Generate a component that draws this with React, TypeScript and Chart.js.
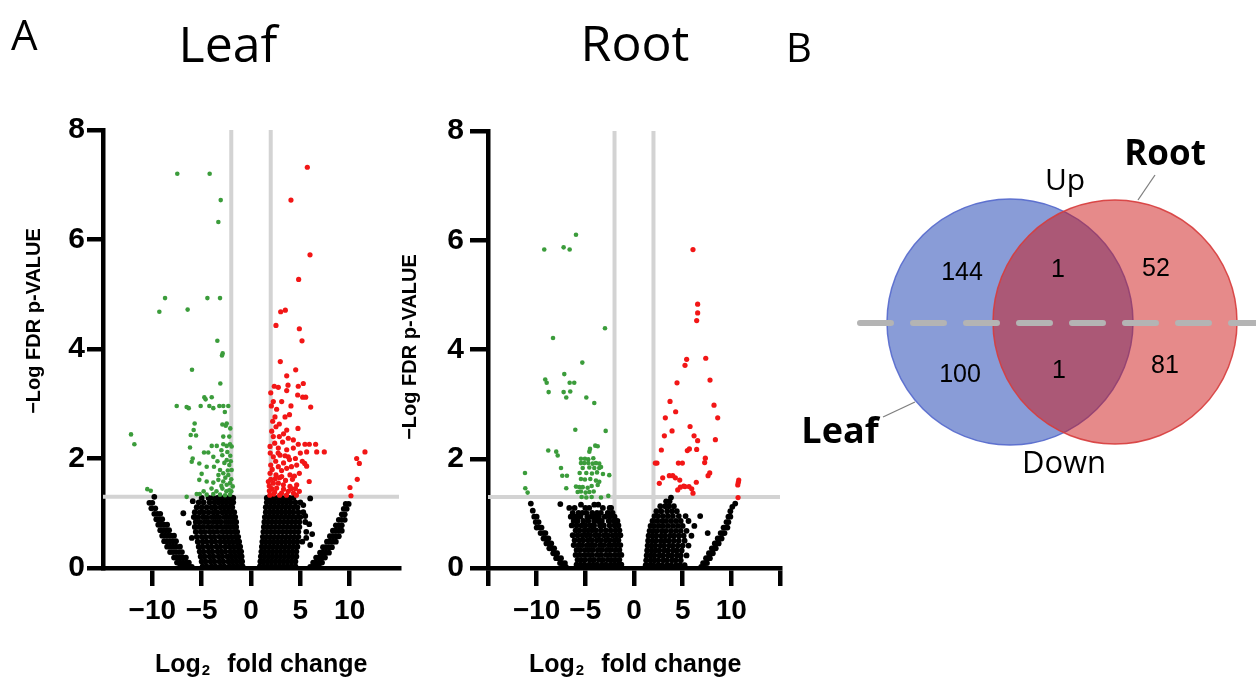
import React, { useEffect, useRef } from 'react';
import { Chart, registerables } from 'chart.js';

Chart.register(...registerables);

// ------------------------------------------------------------------
// DATA
// ------------------------------------------------------------------
const xTickValuesLeaf = [-10, -5, 0, 5, 10];
const xTickValuesRoot = [-15, -10, -5, 0, 5, 10, 15];
const xLabelledTicks = [-10, -5, 0, 5, 10];
const yTickStep = 2;
const fcThresholds = [-2, 2];
const pThreshold = 1.3;

// Leaf: significantly down-regulated (green)
const leafDown: [number, number][] = [
  [-7.47, 7.2], [-4.19, 7.2], [-3.07, 6.72], [-3.31, 6.32], [-8.71, 4.93], [-4.42, 4.93], [-3.14, 4.93],
  [-9.29, 4.68], [-6.42, 4.72], [-3.41, 4.15], [-2.87, 3.92], [-2.94, 3.88], [-5.98, 3.62], [-3.11, 3.37],
  [-4.73, 3.12], [-3.98, 3.12], [-7.53, 2.96], [-6.52, 2.94], [-6.31, 2.92], [-5.1, 2.96], [-4.22, 2.96],
  [-3.82, 2.92], [-3.21, 2.96], [-2.81, 2.96], [-2.3, 2.96], [-5.71, 2.64], [-5.81, 2.52], [-6.11, 2.43],
  [-5.57, 2.42], [-2.46, 2.64], [-2.56, 2.6], [-2.81, 2.4], [-12.16, 2.44], [-11.82, 2.26], [-6.18, 2.2],
  [-4.76, 2.11], [-4.33, 2.11], [-3.98, 2.23], [-3.47, 2.23], [-2.81, 2.26], [-2.46, 2.23], [-2.13, 2.26],
  [-1.96, 2.22], [-3.82, 2.03], [-2.91, 2.06], [-2.46, 1.97], [-5.91, 2.0], [-6.01, 1.94], [-5.24, 1.91],
  [-4.49, 1.85], [-3.75, 1.85], [-3.14, 1.79], [-2.81, 1.73], [-2.3, 1.7], [-1.96, 1.79], [-5.24, 1.61],
  [-4.49, 1.58], [-3.82, 1.56], [-3.31, 1.61], [-2.81, 1.58], [-2.46, 1.52], [-2.13, 1.55], [-1.85, 1.49],
  [-10.51, 1.44], [-10.16, 1.41], [-6.52, 1.3], [-5.5, 1.35], [-4.49, 1.34], [-3.82, 1.35], [-3.14, 1.34],
  [-2.63, 1.33], [-2.13, 1.34], [-2.2, 1.42], [-2.5, 1.4], [-2.9, 1.45], [-2.0, 1.62], [-2.6, 1.65],
  [-3.0, 1.5], [-2.2, 1.88], [-2.7, 1.92], [-3.4, 1.95], [-2.1, 2.05], [-2.4, 2.12], [-3.0, 2.15],
  [-2.0, 1.4], [-4.0, 1.45], [-3.5, 1.4], [-2.35, 1.78], [-2.05, 1.95], [-3.3, 1.7], [-4.8, 1.4],
  [-5.0, 1.72], [-2.2, 2.4], [-2.1, 2.55], [-2.65, 2.85], [-2.9, 2.62], [-4.6, 3.08], [-5.2, 1.35],
];

// Leaf: significantly up-regulated (red)
const leafUp: [number, number][] = [
  [5.71, 7.32], [4.05, 6.72], [5.98, 5.72], [4.83, 5.27], [3.01, 4.68], [3.48, 4.71], [2.53, 4.43],
  [4.9, 4.37], [5.17, 4.15], [2.97, 3.77], [4.53, 3.62], [3.62, 3.51], [5.3, 3.37], [4.79, 3.32],
  [2.36, 3.32], [2.77, 3.3], [3.62, 3.24], [3.75, 3.34], [4.73, 3.16], [5.24, 3.12], [5.54, 3.12],
  [2.26, 3.04], [3.11, 3.04], [4.05, 2.96], [2.06, 2.96], [6.05, 2.94], [2.43, 2.76], [3.45, 2.76],
  [2.53, 2.58], [2.87, 2.63], [3.62, 2.52], [4.76, 2.55], [2.26, 2.4], [2.87, 2.4], [3.78, 2.37],
  [4.29, 2.34], [4.79, 2.26], [5.47, 2.26], [5.91, 2.26], [6.55, 2.26], [7.43, 2.12], [6.66, 2.12],
  [5.64, 2.12], [1.93, 2.22], [2.77, 2.19], [3.62, 2.16], [4.29, 2.19], [2.26, 2.03], [2.94, 2.06],
  [3.78, 2.03], [2.0, 1.88], [2.77, 1.85], [3.62, 1.82], [4.63, 1.88], [5.64, 1.86], [5.44, 1.91],
  [1.93, 1.73], [2.53, 1.7], [3.11, 1.67], [3.95, 1.7], [4.9, 1.73], [1.76, 1.58], [2.26, 1.55],
  [2.77, 1.55], [3.28, 1.52], [3.95, 1.49], [4.63, 1.52], [1.86, 1.41], [2.4, 1.39], [3.1, 1.37],
  [3.78, 1.4], [4.3, 1.37], [4.9, 1.4], [11.55, 2.12], [10.71, 2.0], [10.98, 1.91], [10.77, 1.62],
  [10.03, 1.47], [10.13, 1.32], [1.9, 1.33], [2.1, 1.45], [2.3, 1.35], [2.6, 1.46], [2.9, 1.33],
  [3.3, 1.44], [3.6, 1.33], [4.1, 1.45], [4.6, 1.33], [2.0, 1.62], [2.45, 1.63], [2.9, 1.65],
  [3.5, 1.6], [4.2, 1.62], [1.85, 1.5], [2.15, 1.8], [2.5, 1.95], [3.3, 1.92], [3.1, 1.78],
  [4.1, 1.85], [4.4, 1.68], [1.95, 2.1], [2.4, 2.28], [3.2, 2.3], [2.1, 2.5], [3.3, 2.45],
  [2.6, 2.9], [3.9, 2.8], [2.2, 2.68], [5.0, 2.1], [4.5, 2.0], [5.2, 1.95], [5.9, 1.58],
  [2.0, 3.2], [3.9, 1.98], [4.5, 1.45], [2.75, 2.1], [3.45, 2.05],
];

// Leaf: not significant (black) — rows of [y, x values]
const leafNsLeftArc: [number, number[]][] = [
  [1.3, [-9.8]], [1.19, [-10.3, -10.0]], [1.09, [-10.1, -9.7]], [0.99, [-9.8, -9.5, -9.2]],
  [0.89, [-9.6, -9.3, -9.0]], [0.79, [-9.4, -9.1, -8.8, -8.5]], [0.69, [-9.2, -8.9, -8.6, -8.3]],
  [0.59, [-9.0, -8.7, -8.4, -8.1, -7.8]], [0.49, [-8.8, -8.5, -8.2, -7.9, -7.6]],
  [0.39, [-8.5, -8.2, -7.9, -7.6, -7.2]], [0.29, [-8.2, -7.9, -7.6, -7.3, -7.0]],
  [0.19, [-7.8, -7.5, -7.2, -6.9, -6.6]], [0.1, [-7.5, -7.2, -6.9, -6.6, -6.3]],
  [0.02, [-7.2, -6.9, -6.6, -6.3, -6.0]],
];
const leafNsLeftCloud: [number, number[]][] = [
  [1.28, [-5.0, -4.3, -3.9, -3.4, -3.0, -2.6, -2.3, -2.0, -1.8]],
  [1.2, [-5.3, -4.8, -4.2, -3.7, -3.3, -2.9, -2.5, -2.1, -1.8]],
  [1.11, [-5.5, -5.0, -4.5, -4.0, -3.6, -3.1, -2.7, -2.3, -1.9]],
  [1.02, [-5.7, -5.2, -4.8, -4.3, -3.8, -3.4, -2.9, -2.5, -2.1, -1.7]],
  [0.93, [-5.8, -5.4, -4.9, -4.5, -4.0, -3.6, -3.2, -2.7, -2.3, -1.9, -1.6]],
  [0.84, [-5.6, -5.2, -4.7, -4.3, -3.8, -3.4, -3.0, -2.5, -2.1, -1.7, -1.5]],
  [0.75, [-5.7, -5.3, -4.9, -4.4, -4.0, -3.5, -3.1, -2.7, -2.3, -1.9, -1.5]],
  [0.66, [-5.6, -5.1, -4.7, -4.2, -3.8, -3.4, -2.9, -2.5, -2.1, -1.7, -1.4]],
  [0.57, [-5.5, -5.0, -4.6, -4.1, -3.7, -3.2, -2.8, -2.4, -2.0, -1.6, -1.3]],
  [0.48, [-5.4, -4.9, -4.5, -4.0, -3.6, -3.1, -2.7, -2.3, -1.9, -1.5, -1.2]],
  [0.39, [-5.3, -4.9, -4.4, -4.0, -3.5, -3.1, -2.6, -2.2, -1.8, -1.4, -1.1]],
  [0.3, [-5.2, -4.8, -4.3, -3.9, -3.4, -3.0, -2.6, -2.1, -1.7, -1.3, -1.0]],
  [0.21, [-5.1, -4.7, -4.2, -3.8, -3.3, -2.9, -2.4, -2.0, -1.6, -1.2, -0.95]],
  [0.12, [-5.0, -4.6, -4.1, -3.7, -3.2, -2.8, -2.3, -1.9, -1.5, -1.1, -0.9]],
  [0.03, [-4.9, -4.5, -4.0, -3.6, -3.1, -2.7, -2.2, -1.8, -1.4, -1.0, -0.85]],
];
const leafNsRightCloud: [number, number[]][] = [
  [1.28, [1.6, 1.9, 2.3, 2.7, 3.1, 3.5, 3.9, 4.3]],
  [1.2, [1.6, 2.0, 2.4, 2.8, 3.2, 3.6, 4.0, 4.5, 5.0]],
  [1.11, [1.5, 1.9, 2.3, 2.7, 3.1, 3.5, 3.9, 4.3, 4.7]],
  [1.02, [1.5, 1.9, 2.3, 2.7, 3.1, 3.5, 3.9, 4.3, 4.8, 5.3]],
  [0.93, [1.4, 1.8, 2.2, 2.6, 3.0, 3.4, 3.8, 4.2, 4.6, 5.0]],
  [0.84, [1.35, 1.7, 2.1, 2.5, 2.9, 3.3, 3.7, 4.1, 4.5, 4.9, 5.5]],
  [0.75, [1.3, 1.7, 2.1, 2.5, 2.9, 3.3, 3.7, 4.1, 4.5, 4.9]],
  [0.66, [1.25, 1.6, 2.0, 2.4, 2.8, 3.2, 3.6, 4.0, 4.4, 4.8, 5.6]],
  [0.57, [1.2, 1.6, 2.0, 2.4, 2.8, 3.2, 3.6, 4.0, 4.4, 4.8]],
  [0.48, [1.15, 1.5, 1.9, 2.3, 2.7, 3.1, 3.5, 3.9, 4.3, 4.7, 5.2]],
  [0.39, [1.1, 1.5, 1.9, 2.3, 2.7, 3.1, 3.5, 3.9, 4.3, 4.7]],
  [0.3, [1.05, 1.4, 1.8, 2.2, 2.6, 3.0, 3.4, 3.8, 4.2, 4.6]],
  [0.21, [1.0, 1.4, 1.8, 2.2, 2.6, 3.0, 3.4, 3.8, 4.2, 4.6]],
  [0.12, [0.95, 1.3, 1.7, 2.1, 2.5, 2.9, 3.3, 3.7, 4.1, 4.5]],
  [0.03, [0.9, 1.3, 1.7, 2.1, 2.5, 2.9, 3.3, 3.7, 4.1, 4.5]],
];
const leafNsRightArc: [number, number[]][] = [
  [1.17, [9.6, 9.9]], [1.08, [9.4, 9.7]], [0.98, [9.2, 9.5]], [0.88, [8.9, 9.2, 9.5]],
  [0.78, [8.6, 8.9, 9.2]], [0.68, [8.3, 8.6, 8.9, 9.2]], [0.58, [8.0, 8.3, 8.6, 8.9]],
  [0.48, [7.7, 8.0, 8.3, 8.6]], [0.38, [7.3, 7.6, 7.9, 8.2]], [0.28, [7.0, 7.3, 7.6, 7.9]],
  [0.19, [6.6, 6.9, 7.2, 7.5]], [0.1, [6.3, 6.6, 6.9, 7.2]], [0.02, [6.0, 6.3, 6.6, 6.9]],
];
const leafNsScatter: [number, number][] = [
  [-6.86, 1.0], [-5.9, 1.22], [-6.3, 0.82], [-6.0, 0.55], [6.0, 1.27], [5.5, 0.95],
  [5.9, 0.8], [6.2, 0.62], [5.6, 0.55], [6.0, 0.42], [5.3, 1.15],
];

// Root: significantly down-regulated (green)
const rootDown: [number, number][] = [
  [-9.22, 5.83], [-7.23, 5.87], [-6.61, 5.83], [-5.96, 6.1], [-2.98, 4.39], [-8.32, 4.21], [-5.31, 3.76],
  [-7.16, 3.55], [-9.12, 3.45], [-8.97, 3.39], [-6.61, 3.39], [-6.14, 3.39], [-8.77, 3.22], [-7.23, 3.22],
  [-6.55, 3.23], [-6.96, 3.12], [-4.9, 3.12], [-4.08, 3.02], [-6.03, 2.53], [-2.91, 2.51], [-8.81, 2.15],
  [-7.99, 2.13], [-7.84, 2.06], [-7.5, 1.83], [-7.37, 1.69], [-6.89, 1.69], [-11.2, 1.74], [-11.17, 1.46],
  [-10.93, 1.38], [-6.96, 1.46], [-4.52, 2.18], [-4.59, 2.13], [-3.98, 2.24], [-3.73, 2.23], [-5.45, 2.0],
  [-5.04, 2.0], [-4.7, 1.99], [-4.18, 2.01], [-5.45, 1.92], [-5.11, 1.92], [-4.7, 1.92], [-4.25, 1.91],
  [-3.91, 1.92], [-3.57, 1.91], [-5.27, 1.83], [-4.59, 1.84], [-4.08, 1.83], [-3.57, 1.83], [-3.39, 1.85],
  [-5.58, 1.74], [-4.9, 1.74], [-4.32, 1.73], [-3.8, 1.75], [-3.19, 1.72], [-2.54, 1.7], [-5.45, 1.63],
  [-5.04, 1.62], [-4.49, 1.63], [-3.91, 1.6], [-3.57, 1.58], [-5.96, 1.49], [-5.62, 1.48], [-5.27, 1.48],
  [-4.76, 1.47], [-4.35, 1.5], [-3.73, 1.52], [-5.79, 1.39], [-5.45, 1.4], [-4.97, 1.38], [-4.59, 1.39],
  [-4.14, 1.4], [-5.38, 1.3], [-4.9, 1.29], [-4.35, 1.3], [-3.39, 1.29], [-2.64, 1.32],
];

// Root: significantly up-regulated (red)
const rootUp: [number, number][] = [
  [6.06, 5.83], [6.54, 4.83], [6.54, 4.67], [6.44, 4.53], [5.41, 3.82], [5.24, 3.71], [7.37, 3.84],
  [4.42, 3.39], [7.81, 3.44], [3.7, 3.05], [4.28, 2.86], [3.22, 2.75], [3.91, 2.51], [8.22, 2.98],
  [8.6, 2.75], [5.76, 2.59], [6.17, 2.42], [6.54, 2.33], [3.12, 2.42], [8.36, 2.35], [2.81, 2.16],
  [2.36, 1.92], [5.48, 2.15], [5.69, 2.18], [6.44, 2.17], [4.56, 1.92], [4.97, 1.92], [7.33, 2.01],
  [7.26, 1.93], [7.78, 1.74], [7.61, 1.69], [2.95, 1.65], [2.6, 1.55], [3.63, 1.69], [3.98, 1.69],
  [4.25, 1.65], [4.7, 1.61], [5.11, 1.5], [4.76, 1.48], [4.49, 1.43], [5.65, 1.49], [5.93, 1.45],
  [6.06, 1.37], [6.4, 1.57], [5.24, 1.49], [10.76, 1.61], [10.72, 1.57], [10.66, 1.52], [10.69, 1.29],
  [2.19, 1.92],
];

// Root: not significant (black)
const rootNsLeftArc: [number, number[]][] = [
  [1.18, [-10.6]], [1.05, [-10.4]], [0.94, [-10.25, -10.0]], [0.84, [-10.1, -9.8]],
  [0.74, [-10.0, -9.7, -9.5]], [0.64, [-9.6, -9.3, -9.1]], [0.54, [-9.3, -9.0, -8.8]],
  [0.45, [-9.0, -8.7, -8.5]], [0.36, [-8.7, -8.4, -8.2]], [0.27, [-8.3, -8.1, -7.9]],
  [0.18, [-8.0, -7.8, -7.5]], [0.09, [-7.6, -7.4, -7.1]], [0.02, [-7.3, -7.0]],
];
const rootNsLeftCloud: [number, number[]][] = [
  [1.16, [-5.45, -4.08, -3.67]],
  [1.1, [-6.65, -6.1, -5.0, -4.6, -3.2, -2.5, -2.35]],
  [1.01, [-6.3, -5.7, -5.3, -4.9, -4.3, -3.8, -3.4, -2.7, -2.2]],
  [0.94, [-6.5, -6.0, -5.5, -4.8, -4.4, -4.0, -3.6, -3.0, -2.5, -2.0]],
  [0.86, [-6.2, -5.8, -5.2, -4.7, -4.1, -3.7, -3.3, -2.6, -2.1, -1.7]],
  [0.78, [-6.4, -5.9, -5.4, -5.0, -4.5, -4.1, -3.5, -3.1, -2.5, -2.0, -1.6]],
  [0.69, [-6.0, -5.6, -5.1, -4.7, -4.3, -3.9, -3.4, -2.9, -2.4, -1.9, -1.5]],
  [0.6, [-6.3, -5.8, -5.3, -4.9, -4.5, -4.0, -3.6, -3.1, -2.7, -2.2, -1.8, -1.4]],
  [0.51, [-6.1, -5.6, -5.2, -4.7, -4.3, -3.8, -3.4, -2.9, -2.5, -2.0, -1.6]],
  [0.42, [-6.2, -5.7, -5.3, -4.8, -4.4, -4.0, -3.5, -3.1, -2.6, -2.2, -1.8, -1.4]],
  [0.33, [-5.9, -5.5, -5.0, -4.6, -4.2, -3.7, -3.3, -2.8, -2.4, -1.9, -1.5]],
  [0.24, [-6.0, -5.6, -5.1, -4.7, -4.3, -3.8, -3.4, -2.9, -2.5, -2.0, -1.6, -1.3]],
  [0.15, [-5.8, -5.4, -5.0, -4.5, -4.1, -3.6, -3.2, -2.7, -2.3, -1.9, -1.5]],
  [0.06, [-5.9, -5.5, -5.1, -4.6, -4.2, -3.8, -3.3, -2.9, -2.4, -2.0, -1.6, -1.3]],
  [0.01, [-5.7, -5.2, -4.8, -4.4, -3.9, -3.5, -3.0, -2.6, -2.2, -1.8, -1.4]],
];
const rootNsRightCloud: [number, number[]][] = [
  [1.29, [3.8]], [1.22, [3.3, 3.65]], [1.13, [2.7, 3.2, 3.6, 4.1]],
  [1.04, [2.3, 2.8, 3.4, 3.9, 4.4]],
  [0.95, [2.1, 2.5, 3.0, 3.5, 4.0, 4.6, 5.3, 6.8]],
  [0.86, [1.9, 2.4, 2.9, 3.3, 3.8, 4.3, 4.8, 5.6]],
  [0.77, [1.7, 2.1, 2.6, 3.0, 3.5, 4.0, 4.5, 5.0, 6.2]],
  [0.68, [1.6, 2.0, 2.4, 2.9, 3.3, 3.8, 4.3, 4.8, 5.4]],
  [0.59, [1.5, 1.9, 2.3, 2.8, 3.2, 3.7, 4.1, 4.6, 5.1, 5.9]],
  [0.5, [1.45, 1.9, 2.3, 2.8, 3.2, 3.6, 4.1, 4.6, 5.2]],
  [0.41, [1.4, 1.8, 2.2, 2.7, 3.1, 3.6, 4.0, 4.5, 5.0, 5.6]],
  [0.32, [1.35, 1.8, 2.2, 2.6, 3.1, 3.5, 4.0, 4.4, 4.9]],
  [0.23, [1.3, 1.7, 2.1, 2.6, 3.0, 3.5, 3.9, 4.4, 4.8, 5.4]],
  [0.14, [1.25, 1.7, 2.1, 2.5, 3.0, 3.4, 3.9, 4.3, 4.8]],
  [0.05, [1.2, 1.6, 2.0, 2.5, 2.9, 3.4, 3.8, 4.3, 4.7, 5.2]],
  [0.01, [1.4, 1.8, 2.3, 2.7, 3.2, 3.6, 4.1, 4.5]],
];
const rootNsRightArc: [number, number[]][] = [
  [1.18, [10.4]], [1.12, [10.1]], [1.04, [9.9]], [0.94, [9.7, 9.9]], [0.84, [9.5, 9.7]],
  [0.74, [9.2, 9.4, 9.6]], [0.64, [8.9, 9.1, 9.3]], [0.54, [8.6, 8.8, 9.0]], [0.45, [8.3, 8.5, 8.7]],
  [0.36, [8.0, 8.2, 8.4]], [0.27, [7.7, 7.9, 8.1]], [0.18, [7.4, 7.6, 7.8]], [0.09, [7.1, 7.3, 7.5]],
  [0.02, [6.9, 7.1]],
];
const rootNsScatter: [number, number][] = [[-7.57, 1.17], [7.57, 0.64]];

// Venn counts: [Leaf only, Leaf ∩ Root, Root only]
const vennSets = ['Leaf', 'Root'];
const vennHalves = ['Up', 'Down'];
const vennUp = [144, 1, 52];
const vennDown = [100, 1, 81];

// ------------------------------------------------------------------
// STYLE / LAYOUT
// ------------------------------------------------------------------
const SANS = '"Liberation Sans", Arial, Helvetica, sans-serif';
const TITLE = '"Open Sans", "Noto Sans", sans-serif';
const RED = '#f21616';
const GREEN = '#3b9c3b';
const GRAYLINE = '#d3d3d3';

type Pt = { x: number; y: number };
const toPts = (l: [number, number][]): Pt[] => l.map(([x, y]) => ({ x, y }));
const rowsToPts = (rows: [number, number[]][]): Pt[] =>
  rows.flatMap(([y, xs]) => xs.map((x) => ({ x, y })));
const fmt = (v: number) => (v < 0 ? '\u2212' + Math.abs(v) : String(v));

type TextItem = {
  text: string;
  x: number;
  y: number;
  font: string;
  align?: CanvasTextAlign;
  rotate?: boolean;
  log2?: boolean;
};

function drawTexts(ctx: CanvasRenderingContext2D, items: TextItem[]) {
  ctx.save();
  ctx.fillStyle = '#000';
  for (const t of items) {
    if (t.log2) {
      ctx.textAlign = 'left';
      ctx.textBaseline = 'alphabetic';
      ctx.font = `bold 25px ${SANS}`;
      ctx.fillText('Log', t.x, t.y);
      const w = ctx.measureText('Log').width;
      ctx.font = `bold 15px ${SANS}`;
      ctx.fillText('2', t.x + w + 1, t.y + 3);
      const w2 = ctx.measureText('2').width;
      ctx.font = `bold 25px ${SANS}`;
      ctx.fillText('fold change', t.x + w + 1 + w2 + 17, t.y);
      continue;
    }
    ctx.font = t.font;
    if (t.rotate) {
      ctx.save();
      ctx.translate(t.x, t.y);
      ctx.rotate(-Math.PI / 2);
      ctx.textAlign = 'center';
      ctx.textBaseline = 'middle';
      ctx.fillText(t.text, 0, 0);
      ctx.restore();
    } else {
      ctx.textAlign = t.align || 'left';
      ctx.textBaseline = 'alphabetic';
      ctx.fillText(t.text, t.x, t.y);
    }
  }
  ctx.restore();
}

const textPlugin = (items: TextItem[]) => ({
  id: 'texts',
  afterDraw(chart: any) {
    drawTexts(chart.ctx, items);
  },
});

type VolcanoOpts = {
  up: [number, number][];
  down: [number, number][];
  ns: Pt[];
  xTicks: number[];
  yAxisWidth: number;
  padTop: number;
  padRight: number;
  yTickLen: number;
  yTickPad: number;
  texts: TextItem[];
};

function volcanoConfig(o: VolcanoOpts): any {
  const lineDs = (data: Pt[]) => ({
    data,
    showLine: true,
    borderColor: GRAYLINE,
    borderWidth: 4,
    pointRadius: 0,
    order: 3,
  });
  return {
    type: 'scatter',
    data: {
      datasets: [
        { data: toPts(o.up), pointBackgroundColor: RED, backgroundColor: RED, pointRadius: 2.6, pointBorderWidth: 0, order: 1 },
        { data: toPts(o.down), pointBackgroundColor: GREEN, backgroundColor: GREEN, pointRadius: 2.3, pointBorderWidth: 0, order: 1 },
        { data: o.ns, pointBackgroundColor: '#000', backgroundColor: '#000', pointRadius: 2.9, pointBorderWidth: 0, order: 2 },
        ...fcThresholds.map((v) => lineDs([{ x: v, y: 0 }, { x: v, y: 8 }])),
        lineDs([{ x: -15, y: pThreshold }, { x: 15, y: pThreshold }]),
      ],
    },
    options: {
      animation: false,
      responsive: false,
      events: [],
      layout: { autoPadding: false, padding: { left: 0, top: o.padTop, right: o.padRight, bottom: 0 } },
      plugins: { legend: { display: false }, tooltip: { enabled: false } },
      scales: {
        x: {
          type: 'linear',
          min: -15,
          max: 15,
          z: 1,
          afterBuildTicks: (s: any) => {
            s.ticks = o.xTicks.map((v) => ({ value: v }));
          },
          afterFit: (s: any) => {
            s.height = 110;
          },
          ticks: {
            autoSkip: false,
            maxRotation: 0,
            padding: 8,
            color: '#000',
            font: { family: SANS, size: 28, weight: 'bold' },
            callback: (v: number) => (xLabelledTicks.includes(v) ? fmt(v) : ''),
          },
          grid: { drawOnChartArea: false, drawTicks: true, tickLength: 18, lineWidth: 4.5, color: '#000' },
          border: { display: true, color: '#000', width: 4.5 },
        },
        y: {
          type: 'linear',
          min: 0,
          max: 8,
          z: 1,
          afterFit: (s: any) => {
            s.width = o.yAxisWidth;
          },
          ticks: {
            stepSize: yTickStep,
            padding: o.yTickPad,
            color: '#000',
            font: { family: SANS, size: 30, weight: 'bold' },
          },
          grid: { drawOnChartArea: false, drawTicks: true, tickLength: o.yTickLen, lineWidth: 4.5, color: '#000' },
          border: { display: true, color: '#000', width: 4.5 },
        },
      },
    },
    plugins: [textPlugin(o.texts)],
  };
}

// Venn layout (canvas px, canvas starts at page x = 780)
const VENN_W = 476;
const vennCircles = [
  { cx: 230, cy: 322, r: 123 },
  { cx: 335, cy: 322, r: 122 },
];
const vennUpPos = [[182, 280], [278, 277], [376, 276]];
const vennDownPos = [[180, 382], [279, 378], [385, 373]];

function vennConfig(): any {
  const texts: TextItem[] = [
    { text: 'B', x: 6, y: 62, font: `40px ${TITLE}` },
    ...vennUp.map((v, i) => ({ text: String(v), x: vennUpPos[i][0], y: vennUpPos[i][1], font: `25px ${SANS}`, align: 'center' as CanvasTextAlign })),
    ...vennDown.map((v, i) => ({ text: String(v), x: vennDownPos[i][0], y: vennDownPos[i][1], font: `25px ${SANS}`, align: 'center' as CanvasTextAlign })),
    { text: vennHalves[0], x: 285, y: 190, font: `30px ${TITLE}`, align: 'center' },
    { text: vennHalves[1], x: 284, y: 473, font: `31px ${TITLE}`, align: 'center' },
    { text: vennSets[1], x: 385, y: 165, font: `bold 35px ${TITLE}`, align: 'center' },
    { text: vennSets[0], x: 60, y: 443, font: `bold 36px ${TITLE}`, align: 'center' },
  ];
  const leader = (a: Pt, b: Pt) => ({
    type: 'line',
    data: [a, b],
    borderColor: '#7f7f7f',
    borderWidth: 1.3,
    pointRadius: 0,
    clip: false,
    order: 0,
  });
  return {
    type: 'bubble',
    data: {
      datasets: [
        {
          type: 'line',
          data: [{ x: 80, y: 323 }, { x: 490, y: 323 }],
          borderColor: '#b4b4b4',
          borderWidth: 6,
          borderDash: [31, 22],
          borderCapStyle: 'round',
          pointRadius: 0,
          clip: false,
          order: 0,
        },
        leader({ x: 375, y: 175 }, { x: 358, y: 200 }),
        leader({ x: 103, y: 417 }, { x: 135, y: 402 }),
        {
          data: [{ x: vennCircles[1].cx, y: vennCircles[1].cy, r: vennCircles[1].r }],
          backgroundColor: 'rgba(205,21,21,0.5)',
          borderColor: 'rgba(215,60,60,0.9)',
          borderWidth: 1.5,
          clip: false,
          order: 1,
        },
        {
          data: [{ x: vennCircles[0].cx, y: vennCircles[0].cy, r: vennCircles[0].r }],
          backgroundColor: 'rgba(20,57,176,0.5)',
          borderColor: 'rgba(85,105,205,0.9)',
          borderWidth: 1.5,
          clip: false,
          order: 2,
        },
      ],
    },
    options: {
      animation: false,
      responsive: false,
      events: [],
      layout: { autoPadding: false, padding: 0 },
      plugins: { legend: { display: false }, tooltip: { enabled: false } },
      scales: {
        x: { type: 'linear', min: 0, max: VENN_W, display: false },
        y: { type: 'linear', min: 0, max: 678, reverse: true, display: false },
      },
    },
    plugins: [textPlugin(texts)],
  };
}

export default function App() {
  const leafRef = useRef<HTMLCanvasElement>(null);
  const rootRef = useRef<HTMLCanvasElement>(null);
  const vennRef = useRef<HTMLCanvasElement>(null);

  useEffect(() => {
    const leafNs = [
      ...rowsToPts(leafNsLeftArc),
      ...rowsToPts(leafNsLeftCloud),
      ...rowsToPts(leafNsRightCloud),
      ...rowsToPts(leafNsRightArc),
      ...toPts(leafNsScatter),
    ];
    const rootNs = [
      ...rowsToPts(rootNsLeftArc),
      ...rowsToPts(rootNsLeftCloud),
      ...rowsToPts(rootNsRightCloud),
      ...rowsToPts(rootNsRightArc),
      ...toPts(rootNsScatter),
    ];
    const charts: Chart[] = [];
    charts.push(
      new Chart(
        leafRef.current!,
        volcanoConfig({
          up: leafUp,
          down: leafDown,
          ns: leafNs,
          xTicks: xTickValuesLeaf,
          yAxisWidth: 103,
          padTop: 130,
          padRight: 21,
          yTickLen: 16,
          yTickPad: 2,
          texts: [
            { text: 'A', x: 11, y: 50, font: `42px ${TITLE}` },
            { text: 'Leaf', x: 228, y: 62, font: `50px ${TITLE}`, align: 'center' },
            { text: '\u2212Log FDR p-VALUE', x: 34, y: 321, font: `bold 20px ${SANS}`, rotate: true },
            { text: '', x: 155, y: 672, font: '', log2: true },
          ],
        })
      )
    );
    charts.push(
      new Chart(
        rootRef.current!,
        volcanoConfig({
          up: rootUp,
          down: rootDown,
          ns: rootNs,
          xTicks: xTickValuesRoot,
          yAxisWidth: 98,
          padTop: 131,
          padRight: 20,
          yTickLen: 18,
          yTickPad: 6,
          texts: [
            { text: 'Root', x: 245, y: 61, font: `50px ${TITLE}`, align: 'center' },
            { text: '\u2212Log FDR p-VALUE', x: 20, y: 347, font: `bold 20px ${SANS}`, rotate: true },
            { text: '', x: 139, y: 672, font: '', log2: true },
          ],
        })
      )
    );
    charts.push(new Chart(vennRef.current!, vennConfig()));
    return () => charts.forEach((c) => c.destroy());
  }, []);

  return (
    <div style={{ position: 'absolute', left: 0, top: 0, width: 1256, height: 678, background: '#fff', overflow: 'hidden' }}>
      <canvas ref={leafRef} width={420} height={678} style={{ position: 'absolute', left: 0, top: 0 }} />
      <canvas ref={rootRef} width={410} height={678} style={{ position: 'absolute', left: 390, top: 0 }} />
      <canvas ref={vennRef} width={VENN_W} height={678} style={{ position: 'absolute', left: 780, top: 0 }} />
    </div>
  );
}
